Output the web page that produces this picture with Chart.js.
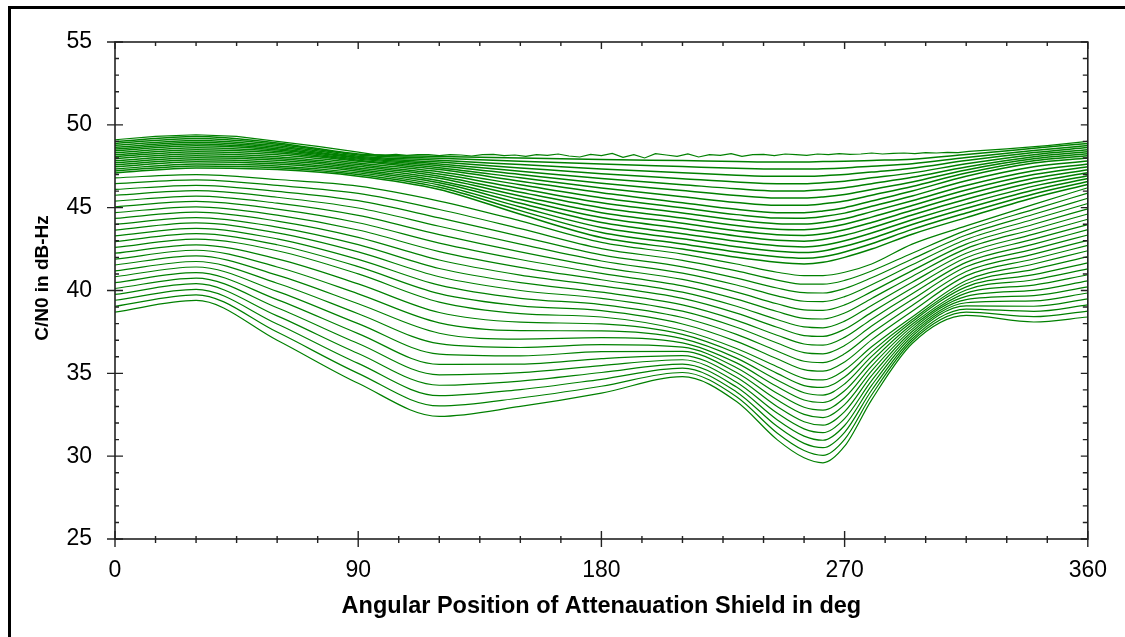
<!DOCTYPE html>
<html>
<head>
<meta charset="utf-8">
<script src="https://cdn.jsdelivr.net/npm/chart.js@4.4.1/dist/chart.umd.min.js"></script>
<style>
  html, body { margin: 0; padding: 0; background: #ffffff; }
  canvas { display: block; }
</style>
</head>
<body>
<canvas id="chart" width="1125" height="637"></canvas>
<script>
// Shield angle (deg) at which each trace is sampled
const angles = [0, 30, 60, 90, 120, 150, 180, 210, 230, 245, 255, 262, 270, 280, 295, 315, 340, 360];

// Upper group of traces (C/N0 in dB-Hz)
const fan01 = [48.99, 49.29, 48.91, 48.24, 48.09, 48.0, 47.91, 47.84, 47.79, 47.76, 47.76, 47.78, 47.8, 47.85, 47.93, 48.21, 48.58, 48.88];
const fan02 = [48.88, 49.18, 48.83, 48.18, 47.98, 47.8, 47.63, 47.48, 47.38, 47.33, 47.33, 47.35, 47.4, 47.5, 47.65, 48.03, 48.45, 48.75];
const fan03 = [48.76, 49.06, 48.74, 48.11, 47.86, 47.6, 47.34, 47.11, 46.96, 46.89, 46.89, 46.93, 47.0, 47.15, 47.38, 47.84, 48.33, 48.63];
const fan04 = [48.65, 48.95, 48.65, 48.05, 47.75, 47.4, 47.05, 46.75, 46.55, 46.45, 46.45, 46.5, 46.6, 46.8, 47.1, 47.65, 48.2, 48.5];
const fan05 = [48.54, 48.84, 48.56, 47.99, 47.64, 47.2, 46.76, 46.39, 46.14, 46.01, 46.01, 46.08, 46.2, 46.45, 46.83, 47.46, 48.08, 48.38];
const fan06 = [48.43, 48.73, 48.48, 47.93, 47.53, 47.0, 46.48, 46.03, 45.73, 45.58, 45.58, 45.65, 45.8, 46.1, 46.55, 47.28, 47.95, 48.25];
const fan07 = [48.31, 48.61, 48.39, 47.86, 47.41, 46.8, 46.19, 45.66, 45.31, 45.14, 45.14, 45.23, 45.4, 45.75, 46.28, 47.09, 47.83, 48.13];
const fan08 = [48.2, 48.5, 48.3, 47.8, 47.3, 46.6, 45.9, 45.3, 44.9, 44.7, 44.7, 44.8, 45.0, 45.4, 46.0, 46.9, 47.7, 48.0];
const fan09 = [48.08, 48.38, 48.19, 47.7, 47.17, 46.38, 45.6, 44.99, 44.58, 44.37, 44.36, 44.46, 44.67, 45.08, 45.71, 46.62, 47.47, 47.82];
const fan10 = [47.96, 48.26, 48.08, 47.6, 47.03, 46.16, 45.3, 44.68, 44.26, 44.03, 44.01, 44.11, 44.33, 44.76, 45.42, 46.34, 47.23, 47.64];
const fan11 = [47.83, 48.13, 47.97, 47.5, 46.9, 45.93, 45.0, 44.37, 43.93, 43.7, 43.67, 43.77, 44.0, 44.43, 45.13, 46.07, 47.0, 47.47];
const fan12 = [47.71, 48.01, 47.86, 47.4, 46.77, 45.71, 44.7, 44.06, 43.61, 43.37, 43.32, 43.42, 43.67, 44.11, 44.84, 45.79, 46.77, 47.29];
const fan13 = [47.59, 47.89, 47.74, 47.3, 46.63, 45.49, 44.4, 43.74, 43.29, 43.03, 42.98, 43.08, 43.33, 43.79, 44.56, 45.51, 46.53, 47.11];
const fan14 = [47.47, 47.77, 47.63, 47.2, 46.5, 45.27, 44.1, 43.43, 42.97, 42.7, 42.63, 42.73, 43.0, 43.47, 44.27, 45.23, 46.3, 46.93];
const fan15 = [47.34, 47.64, 47.52, 47.1, 46.37, 45.04, 43.8, 43.12, 42.64, 42.37, 42.29, 42.39, 42.67, 43.14, 43.98, 44.96, 46.07, 46.76];
const fan16 = [47.22, 47.52, 47.41, 47.0, 46.23, 44.82, 43.5, 42.81, 42.32, 42.03, 41.94, 42.04, 42.33, 42.82, 43.69, 44.68, 45.83, 46.58];
const fan17 = [47.1, 47.4, 47.3, 46.9, 46.1, 44.6, 43.2, 42.5, 42.0, 41.7, 41.6, 41.7, 42.0, 42.5, 43.4, 44.4, 45.6, 46.4];

// Lower group of traces, with the deep notch near 262 deg
const low00 = [46.8, 47.0, 46.7, 46.3, 45.4, 44.2, 42.9, 42.2, 41.6, 41.1, 40.9, 40.9, 41.1, 41.6, 42.8, 43.9, 45.2, 46.2];
const low01 = [46.45, 46.68, 46.34, 45.86, 44.89, 43.73, 42.53, 41.82, 41.18, 40.63, 40.38, 40.38, 40.61, 41.18, 42.25, 43.63, 44.9, 45.88];
const low02 = [46.1, 46.35, 45.98, 45.42, 44.38, 43.27, 42.15, 41.43, 40.75, 40.15, 39.87, 39.85, 40.12, 40.77, 41.9, 43.35, 44.6, 45.57];
const low03 = [45.75, 46.03, 45.63, 44.98, 43.88, 42.8, 41.78, 41.05, 40.33, 39.68, 39.35, 39.33, 39.63, 40.35, 41.55, 43.08, 44.3, 45.25];
const low04 = [45.4, 45.7, 45.27, 44.53, 43.37, 42.33, 41.4, 40.67, 39.9, 39.2, 38.83, 38.8, 39.13, 39.93, 41.2, 42.8, 44.0, 44.93];
const low05 = [45.05, 45.38, 44.91, 44.09, 42.86, 41.87, 41.03, 40.28, 39.48, 38.73, 38.32, 38.28, 38.64, 39.52, 40.85, 42.53, 43.7, 44.62];
const low06 = [44.7, 45.05, 44.55, 43.65, 42.35, 41.4, 40.65, 39.9, 39.05, 38.25, 37.8, 37.75, 38.15, 39.1, 40.5, 42.25, 43.4, 44.3];
const low07 = [44.35, 44.73, 44.19, 43.21, 41.84, 40.93, 40.28, 39.52, 38.63, 37.78, 37.28, 37.23, 37.66, 38.68, 40.15, 41.98, 43.1, 43.98];
const low08 = [44.0, 44.4, 43.83, 42.77, 41.33, 40.47, 39.9, 39.13, 38.2, 37.3, 36.77, 36.7, 37.17, 38.27, 39.8, 41.7, 42.8, 43.67];
const low09 = [43.65, 44.08, 43.48, 42.33, 40.83, 40.0, 39.53, 38.75, 37.78, 36.83, 36.25, 36.18, 36.68, 37.85, 39.45, 41.43, 42.5, 43.35];
const low10 = [43.3, 43.75, 43.12, 41.88, 40.32, 39.53, 39.15, 38.37, 37.35, 36.35, 35.73, 35.65, 36.18, 37.43, 39.1, 41.15, 42.2, 43.03];
const low11 = [42.95, 43.43, 42.76, 41.44, 39.81, 39.07, 38.78, 37.98, 36.93, 35.88, 35.22, 35.13, 35.69, 37.02, 38.75, 40.88, 41.9, 42.72];
const low12 = [42.6, 43.1, 42.4, 41.0, 39.3, 38.6, 38.4, 37.6, 36.5, 35.4, 34.7, 34.6, 35.2, 36.6, 38.4, 40.6, 41.6, 42.4];
const low13 = [42.25, 42.76, 41.91, 40.4, 38.67, 38.09, 37.98, 37.35, 36.21, 35.0, 34.26, 34.15, 34.78, 36.31, 38.25, 40.41, 41.28, 42.04];
const low14 = [41.89, 42.43, 41.42, 39.8, 38.05, 37.58, 37.56, 37.09, 35.92, 34.6, 33.83, 33.69, 34.36, 36.02, 38.11, 40.22, 40.96, 41.67];
const low15 = [41.54, 42.09, 40.93, 39.2, 37.42, 37.07, 37.15, 36.84, 35.63, 34.2, 33.39, 33.24, 33.95, 35.73, 37.96, 40.03, 40.65, 41.31];
const low16 = [41.18, 41.75, 40.44, 38.6, 36.79, 36.56, 36.73, 36.58, 35.34, 33.8, 32.95, 32.78, 33.53, 35.44, 37.82, 39.84, 40.33, 40.95];
const low17 = [40.83, 41.42, 39.95, 38.0, 36.16, 36.05, 36.31, 36.33, 35.05, 33.4, 32.52, 32.33, 33.11, 35.15, 37.67, 39.65, 40.01, 40.58];
const low18 = [40.47, 41.08, 39.45, 37.4, 35.54, 35.55, 35.89, 36.07, 34.76, 33.0, 32.08, 31.87, 32.69, 34.86, 37.53, 39.45, 39.69, 40.22];
const low19 = [40.12, 40.75, 38.96, 36.8, 34.91, 35.04, 35.47, 35.82, 34.46, 32.6, 31.65, 31.42, 32.27, 34.56, 37.38, 39.26, 39.37, 39.85];
const low20 = [39.76, 40.41, 38.47, 36.2, 34.28, 34.53, 35.05, 35.56, 34.17, 32.2, 31.21, 30.96, 31.85, 34.27, 37.24, 39.07, 39.05, 39.49];
const low21 = [39.41, 40.07, 37.98, 35.6, 33.65, 34.02, 34.64, 35.31, 33.88, 31.8, 30.77, 30.51, 31.44, 33.98, 37.09, 38.88, 38.74, 39.13];
const low22 = [39.05, 39.74, 37.49, 35.0, 33.03, 33.51, 34.22, 35.05, 33.59, 31.4, 30.34, 30.05, 31.02, 33.69, 36.95, 38.69, 38.42, 38.76];
const low23 = [38.7, 39.4, 37.0, 34.4, 32.4, 33.0, 33.8, 34.8, 33.3, 31.0, 29.9, 29.6, 30.6, 33.4, 36.8, 38.5, 38.1, 38.4];

// Strongest trace, recorded at a finer angular step (shows receiver jitter)
const topAngles = [0, 15, 30, 45, 60, 75, 90,
  96, 100, 104, 108, 112, 116, 120, 124, 128, 132, 136, 140, 144, 148, 152, 156, 160, 164, 168, 172,
  176, 180, 184, 188, 192, 196, 200, 204, 208, 212, 216, 220, 224, 228, 232, 236, 240, 244, 248, 252,
  256, 260, 264, 268, 272, 276, 280, 284, 288, 292, 296, 300, 304, 308, 312, 316,
  330, 345, 360];
const topTrace = [49.1, 49.3, 49.4, 49.3, 49.0, 48.7, 48.35,
  48.2, 48.18, 48.22, 48.16, 48.2, 48.2, 48.14, 48.2, 48.18, 48.12, 48.2, 48.22, 48.14, 48.18, 48.1, 48.2, 48.16, 48.24, 48.12, 48.06,
  48.22, 48.14, 48.28, 48.04, 48.2, 48.0, 48.26, 48.18, 48.1, 48.24, 48.06, 48.2, 48.16, 48.26, 48.1, 48.2, 48.22, 48.14, 48.24, 48.2,
  48.16, 48.24, 48.2, 48.26, 48.22, 48.24, 48.3, 48.24, 48.28, 48.3, 48.26, 48.32, 48.3, 48.34, 48.32, 48.4,
  48.55, 48.75, 49.0];

// Axis ticks
const xTickLabels = [0, 90, 180, 270, 360];
const yTickLabels = [25, 30, 35, 40, 45, 50, 55];

const upperTraces = [fan01, fan02, fan03, fan04, fan05, fan06, fan07, fan08, fan09, fan10, fan11, fan12, fan13, fan14, fan15, fan16, fan17];
const lowerTraces = [
  low00, low01, low02, low03, low04, low05, low06, low07, low08, low09, low10, low11,
  low12, low13, low14, low15, low16, low17, low18, low19, low20, low21, low22, low23
];

const GREEN = '#008000';
const FONT = "'Liberation Sans', Arial, sans-serif";

function traceDataset(values, width) {
  return {
    data: values.map((v, i) => ({ x: angles[i], y: v })),
    borderColor: GREEN,
    borderWidth: width,
    pointRadius: 0,
    fill: false,
    cubicInterpolationMode: 'monotone'
  };
}

const datasets = [
  ...upperTraces.map(v => traceDataset(v, 1.5)),
  ...lowerTraces.map(v => traceDataset(v, 1.2)),
  {
    data: topTrace.map((v, i) => ({ x: topAngles[i], y: v })),
    borderColor: GREEN,
    borderWidth: 1.2,
    pointRadius: 0,
    fill: false,
    tension: 0
  }
];

// Outer frame, plot box, tick marks and the vertical axis title
const framePlugin = {
  id: 'frame',
  afterDraw(chart) {
    const { ctx, scales: { x, y } } = chart;
    const L = x.getPixelForValue(0), R = x.getPixelForValue(360);
    const T = y.getPixelForValue(55), B = y.getPixelForValue(25);
    ctx.save();
    ctx.fillStyle = '#000';
    ctx.fillRect(8, 6, chart.width - 8, 3);
    ctx.fillRect(8, 6, 3, chart.height - 6);

    ctx.strokeStyle = '#222';
    ctx.lineWidth = 1.6;
    ctx.strokeRect(L, T, R - L, B - T);

    ctx.lineWidth = 1.4;
    ctx.beginPath();
    for (let v = 25; v <= 55; v++) {
      const py = y.getPixelForValue(v);
      if (v % 5 === 0) {
        ctx.moveTo(L - 8, py); ctx.lineTo(L + 8, py);
        ctx.moveTo(R - 7, py); ctx.lineTo(R, py);
      } else {
        ctx.moveTo(L, py); ctx.lineTo(L + 4, py);
        ctx.moveTo(R - 5, py); ctx.lineTo(R, py);
      }
    }
    for (let a = 0; a <= 360; a += 15) {
      const px = x.getPixelForValue(a);
      if (a % 90 === 0) {
        ctx.moveTo(px, B - 8); ctx.lineTo(px, B + 8);
        ctx.moveTo(px, T); ctx.lineTo(px, T + 7);
      } else {
        ctx.moveTo(px, B - 3); ctx.lineTo(px, B + 4);
        ctx.moveTo(px, T); ctx.lineTo(px, T + 4);
      }
    }
    ctx.stroke();

    ctx.translate(43, 278);
    ctx.rotate(-Math.PI / 2);
    ctx.fillStyle = '#000';
    ctx.font = 'bold 19px ' + FONT;
    ctx.textAlign = 'center';
    ctx.textBaseline = 'middle';
    ctx.fillText('C/N0 in dB-Hz', 0, 0);
    ctx.restore();
  }
};

new Chart(document.getElementById('chart'), {
  type: 'line',
  data: { datasets },
  options: {
    responsive: false,
    animation: false,
    events: [],
    layout: { padding: { left: 0, right: 37, top: 42, bottom: 0 } },
    plugins: { legend: { display: false }, tooltip: { enabled: false } },
    scales: {
      x: {
        type: 'linear',
        min: 0, max: 360,
        afterBuildTicks: s => { s.ticks = xTickLabels.map(v => ({ value: v })); },
        afterFit: s => { s.height = 98; },
        grid: { display: false, drawTicks: false },
        border: { display: false },
        ticks: { color: '#000', font: { family: FONT, size: 23 }, padding: 18, maxRotation: 0, autoSkip: false },
        title: {
          display: true,
          text: 'Angular Position of Attenauation Shield in deg',
          color: '#000',
          font: { family: FONT, size: 23.5, weight: 'bold' },
          padding: { top: 0, bottom: 16 }
        }
      },
      y: {
        type: 'linear',
        min: 25, max: 55,
        afterBuildTicks: s => { s.ticks = yTickLabels.map(v => ({ value: v })); },
        afterFit: s => { s.width = 115; },
        grid: { display: false, drawTicks: false },
        border: { display: false },
        ticks: { color: '#000', font: { family: FONT, size: 23 }, padding: 23 }
      }
    }
  },
  plugins: [framePlugin]
});
</script>
</body>
</html>
